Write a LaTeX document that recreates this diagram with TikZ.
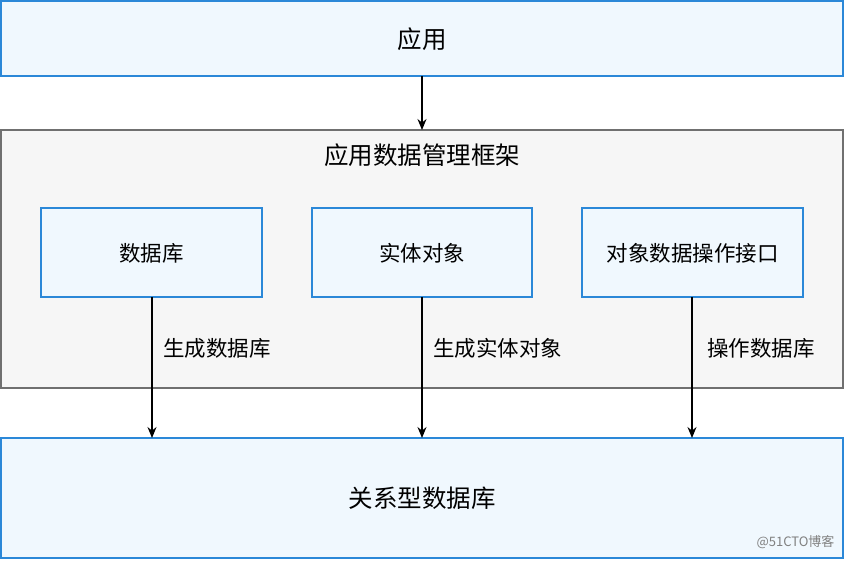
\documentclass[tikz,border=0pt]{standalone}
\usepackage{fontspec}
\usetikzlibrary{arrows.meta}
\setmainfont{Noto Sans CJK SC}
\definecolor{bb}{HTML}{2B88D8}
\definecolor{bf}{HTML}{F0F8FE}
\definecolor{gb}{HTML}{707070}
\definecolor{gf}{HTML}{F6F6F6}
\begin{document}
\begin{tikzpicture}[x=1pt,y=-1pt,
 bluebox/.style={draw=bb,fill=bf,line width=2pt},
 graybox/.style={draw=gb,fill=gf,line width=2pt},
 big/.style={font=\fontsize{24.5}{28}\selectfont},
 small/.style={font=\fontsize{21.5}{25}\selectfont},
 arr/.style={-{Stealth[length=11pt,width=9pt]},line width=1.5pt}]
\useasboundingbox (0,0) rectangle (844,560);
\draw[bluebox] (1,1) rectangle (843,76);
\node[big] (app) at (422,39) {应用};
\draw[graybox] (1,130) rectangle (843,388);
\node[big] (fw) at (422,155) {应用数据管理框架};
\draw[bluebox] (41,208) rectangle (262,297);
\draw[bluebox] (312,208) rectangle (532,297);
\draw[bluebox] (582,208) rectangle (803,297);
\node[small] (db) at (151.5,253) {数据库};
\node[small] (ent) at (422,253) {实体对象};
\node[small] (op) at (692.5,253) {对象数据操作接口};
\draw[bluebox] (1,438) rectangle (843,558);
\node[big] (rdb) at (422,498) {关系型数据库};
\coordinate (t1) at (422,76); \coordinate (t2) at (422,130);
\draw[arr] (t1) -- (t2);
\coordinate (a1) at (152,297); \coordinate (b1) at (152,438);
\coordinate (a2) at (422,297); \coordinate (b2) at (422,438);
\coordinate (a3) at (692,297); \coordinate (b3) at (692,438);
\draw[arr] (a1) -- (b1);
\draw[arr] (a2) -- (b2);
\draw[arr] (a3) -- (b3);
\node[small,anchor=west,inner sep=0pt] (l1) at (163,348) {生成数据库};
\node[small,anchor=west,inner sep=0pt] (l2) at (433,348) {生成实体对象};
\node[small,anchor=west,inner sep=0pt] (l3) at (707,348) {操作数据库};
\node[font=\fontsize{13}{15}\selectfont,text=gray,anchor=east] (wm) at (838,542) {@51CTO博客};
\end{tikzpicture}
\end{document}
